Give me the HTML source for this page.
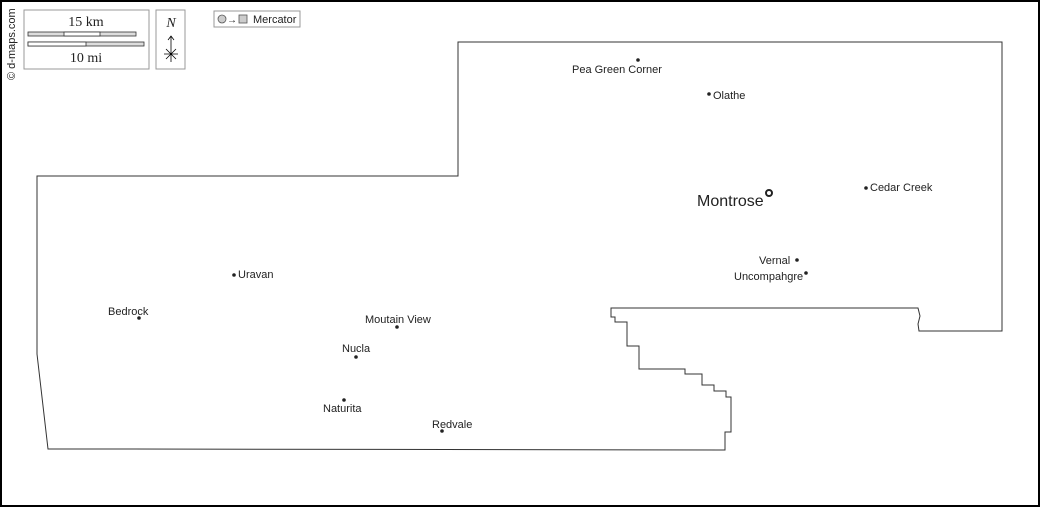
<!DOCTYPE html>
<html><head><meta charset="utf-8"><style>
html,body{margin:0;padding:0;background:#fff}
svg{display:block}
text{font-family:"Liberation Sans",sans-serif;font-size:11px;fill:#222}
</style></head><body>
<svg width="1040" height="507" viewBox="0 0 1040 507" xmlns="http://www.w3.org/2000/svg">
<rect x="1" y="1" width="1038" height="505" fill="#fff" stroke="#000" stroke-width="2"/>
<!-- outline -->
<path d="M458,42 L1002,42 L1002,331 L919,331 L918,324 L920,316 L918,308 L611,308 L611,317 L615,317 L615,322 L627,322 L627,346 L639,346 L639,369 L685,369 L685,374 L702,374 L702,385 L714,385 L714,391 L726,391 L726,397 L731,397 L731,432 L725,432 L725,450 L131,449 L131,449 L48,449 L37,354 L37,176 L458,176 Z" fill="none" stroke="#333" stroke-width="1"/>
<!-- copyright -->
<text transform="translate(15,80) rotate(-90)" style="font-size:11px">© d-maps.com</text>
<!-- scale box -->
<rect x="24" y="10" width="125" height="59" fill="#fff" stroke="#999"/>
<text x="86" y="26" text-anchor="middle" style="font-family:'Liberation Serif',serif;font-size:14px">15 km</text>
<rect x="28" y="32" width="108" height="4" fill="#ddd" stroke="#333" stroke-width="0.8"/>
<rect x="64" y="32" width="36" height="4" fill="#fff" stroke="#333" stroke-width="0.8"/>
<rect x="28" y="42" width="116" height="4" fill="#ddd" stroke="#333" stroke-width="0.8"/>
<rect x="28" y="42" width="58" height="4" fill="#fff" stroke="#333" stroke-width="0.8"/>
<text x="86" y="62" text-anchor="middle" style="font-family:'Liberation Serif',serif;font-size:14px">10 mi</text>
<!-- north -->
<rect x="156" y="10" width="29" height="59" fill="#fff" stroke="#999"/>
<text x="171" y="27" text-anchor="middle" style="font-family:'Liberation Serif',serif;font-size:14px;font-style:italic">N</text>
<path d="M171,62 L171,36 M168,40 L171,36 L174,40 M164,54 L178,54 M166,49 L176,59 M176,49 L166,59" stroke="#000" stroke-width="0.8" fill="none"/>
<!-- mercator -->
<rect x="214" y="11" width="86" height="16" fill="#fff" stroke="#999"/>
<circle cx="222" cy="19" r="4" fill="#ccc" stroke="#555" stroke-width="0.8"/>
<text x="227" y="23" style="font-size:10px">→</text>
<rect x="239" y="15" width="8" height="8" fill="#ccc" stroke="#555" stroke-width="0.8"/>
<text x="253" y="23" style="font-size:11px">Mercator</text>
<!-- cities -->
<g fill="#222">
<circle cx="638" cy="60" r="1.8"/>
<circle cx="709" cy="94" r="1.8"/>
<circle cx="866" cy="188" r="1.8"/>
<circle cx="797" cy="260" r="1.8"/>
<circle cx="806" cy="273" r="1.8"/>
<circle cx="234" cy="275" r="1.8"/>
<circle cx="139" cy="318" r="1.8"/>
<circle cx="397" cy="327" r="1.8"/>
<circle cx="356" cy="357" r="1.8"/>
<circle cx="344" cy="400" r="1.8"/>
<circle cx="442" cy="431" r="1.8"/>
</g>
<circle cx="769" cy="193" r="3" fill="none" stroke="#222" stroke-width="2"/>
<text x="572" y="73">Pea Green Corner</text>
<text x="713" y="99">Olathe</text>
<text x="697" y="206" style="font-size:16px">Montrose</text>
<text x="870" y="191">Cedar Creek</text>
<text x="759" y="264">Vernal</text>
<text x="734" y="280">Uncompahgre</text>
<text x="238" y="278">Uravan</text>
<text x="108" y="315">Bedrock</text>
<text x="365" y="323">Moutain View</text>
<text x="342" y="352">Nucla</text>
<text x="323" y="412">Naturita</text>
<text x="432" y="428">Redvale</text>
</svg>
</body></html>
